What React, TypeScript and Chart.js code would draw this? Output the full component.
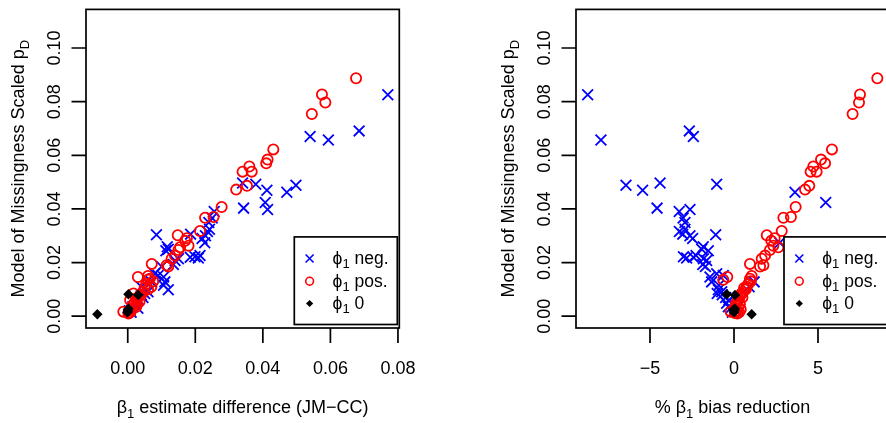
import React, { useEffect, useRef } from 'react';
import { Chart, registerables } from 'chart.js';

Chart.register(...registerables);

// ---- data ----
// phi1 negative
const negPD = [0.0826, 0.0691, 0.0670, 0.0657, 0.0497, 0.0492, 0.0488, 0.0470, 0.0462, 0.0424, 0.0403, 0.0398, 0.0390, 0.0366, 0.0349, 0.0324, 0.0316, 0.0306, 0.0300, 0.0304, 0.0290, 0.0274, 0.0259, 0.0250, 0.0244, 0.0226, 0.0222, 0.0217, 0.0220, 0.0214, 0.0208, 0.0193, 0.0185, 0.0158, 0.0152, 0.0146, 0.0128, 0.0128, 0.0115, 0.0099, 0.0091, 0.0085, 0.0080, 0.0070, 0.0060, 0.0048, 0.0035, 0.0030, 0.0015, 0.0020, 0.0110];
const negDiff = [0.0770, 0.0685, 0.0540, 0.0594, 0.0340, 0.0379, 0.0498, 0.0412, 0.0471, 0.0407, 0.0343, 0.0414, 0.0256, 0.0250, 0.0240, 0.0242, 0.0236, 0.0186, 0.0230, 0.0085, 0.0220, 0.0228, 0.0117, 0.0120, 0.0113, 0.0214, 0.0199, 0.0209, 0.0185, 0.0150, 0.0140, 0.0135, 0.0100, 0.0080, 0.0090, 0.0106, 0.0110, 0.0070, 0.0106, 0.0120, 0.0060, 0.0050, 0.0040, 0.0045, 0.0030, 0.0025, 0.0015, 0.0030, 0.0010, 0.0005, 0.0040];
const negRed = [-8.71, -2.66, -2.42, -7.92, -4.40, -1.03, -6.43, -5.44, 3.63, 5.46, -4.58, -2.62, -3.26, -3.03, -2.92, -2.92, -3.25, -3.05, -2.62, -1.09, -2.46, 2.72, -1.83, -1.92, -1.53, -2.26, -3.01, -2.82, -2.42, -1.82, -1.63, -1.86, -1.70, -1.03, -0.64, -1.43, -1.33, 1.20, -0.90, -0.93, -0.73, -1.00, -0.70, -0.50, -0.30, -0.44, -0.34, -0.20, -0.10, 0.10, 0.90];

// phi1 positive
const posPD = [0.0887, 0.0827, 0.0797, 0.0754, 0.0622, 0.0584, 0.0570, 0.0558, 0.0539, 0.0539, 0.0486, 0.0472, 0.0407, 0.0370, 0.0367, 0.0318, 0.0302, 0.0291, 0.0281, 0.0263, 0.0257, 0.0247, 0.0226, 0.0214, 0.0195, 0.0185, 0.0190, 0.0146, 0.0136, 0.0150, 0.0140, 0.0130, 0.0120, 0.0110, 0.0105, 0.0100, 0.0090, 0.0085, 0.0080, 0.0075, 0.0070, 0.0065, 0.0060, 0.0055, 0.0050, 0.0045, 0.0040, 0.0035, 0.0030, 0.0025, 0.0020, 0.0017, 0.0015, 0.0012, 0.0010];
const posDiff = [0.0676, 0.0575, 0.0585, 0.0545, 0.0431, 0.0414, 0.0410, 0.0360, 0.0367, 0.0340, 0.0353, 0.0321, 0.0278, 0.0254, 0.0229, 0.0214, 0.0148, 0.0175, 0.0170, 0.0180, 0.0155, 0.0150, 0.0140, 0.0130, 0.0071, 0.0120, 0.0115, 0.0030, 0.0060, 0.0060, 0.0065, 0.0075, 0.0055, 0.0070, 0.0050, 0.0060, 0.0045, 0.0017, 0.0040, 0.0035, 0.0030, 0.0025, 0.0007, 0.0035, 0.0020, 0.0028, 0.0015, 0.0025, 0.0010, 0.0012, 0.0005, -0.0013, 0.0008, 0.0003, 0.0002];
const posRed = [8.53, 7.50, 7.44, 7.06, 5.83, 5.18, 5.42, 4.72, 4.92, 4.56, 4.48, 4.23, 3.67, 3.39, 2.94, 2.84, 1.95, 2.42, 2.22, 2.34, 2.64, 2.14, 1.85, 1.65, 0.95, 1.55, 1.75, -0.40, -0.64, 1.05, 0.95, 1.00, 0.85, 0.75, 0.60, 0.70, 0.55, 0.45, 0.40, 0.35, 0.50, 0.30, 0.25, 0.20, 0.15, 0.35, 0.10, 0.25, 0.05, 0.40, 0.15, -0.20, 0.30, 0.05, 0.20];

// phi1 zero
const zeroPD = [0.0007, 0.0082, 0.0079, 0.0023, 0.0018, 0.0015, 0.0028];
const zeroDiff = [-0.0090, 0.0002, 0.0031, 0.0000, 0.0001, -0.0001, 0.0002];
const zeroRed = [1.05, -0.43, 0.06, -0.04, 0.02, 0.00, 0.05];

// axes
const yTicks = [0, 0.02, 0.04, 0.06, 0.08, 0.10];
const yTickLabels = ['0.00', '0.02', '0.04', '0.06', '0.08', '0.10'];
const leftXTicks = [0, 0.02, 0.04, 0.06, 0.08];
const leftXTickLabels = ['0.00', '0.02', '0.04', '0.06', '0.08'];
const rightXTicks = [-5, 0, 5];
const rightXTickLabels = ['\u22125', '0', '5'];
const yLimits = [-0.0044, 0.1144];
const leftXLimits = [-0.01236, 0.0804];
const rightXLimits = [-9.405, 9.226];

type Seg = { t: string; sub?: boolean };
const yTitle: Seg[] = [{ t: 'Model of Missingness Scaled p' }, { t: 'D', sub: true }];
const leftXTitle: Seg[] = [{ t: '\u03B2' }, { t: '1', sub: true }, { t: ' estimate difference (JM\u2212CC)' }];
const rightXTitle: Seg[] = [{ t: '% \u03B2' }, { t: '1', sub: true }, { t: ' bias reduction' }];
const legendLabels: Seg[][] = [
  [{ t: '\u03D5' }, { t: '1', sub: true }, { t: ' neg.' }],
  [{ t: '\u03D5' }, { t: '1', sub: true }, { t: ' pos.' }],
  [{ t: '\u03D5' }, { t: '1', sub: true }, { t: ' 0' }],
];

const FONT = '"Liberation Sans", Arial, Helvetica, sans-serif';
const BLUE = '#0000ff';
const RED = '#ff0000';

function segsWidth(ctx: CanvasRenderingContext2D, segs: Seg[], size: number) {
  let w = 0;
  for (const s of segs) {
    ctx.font = `${s.sub ? Math.round(size * 0.72) : size}px ${FONT}`;
    w += ctx.measureText(s.t).width;
  }
  return w;
}
function drawSegs(ctx: CanvasRenderingContext2D, segs: Seg[], x: number, y: number, size: number) {
  let cx = x;
  ctx.textAlign = 'left';
  ctx.textBaseline = 'alphabetic';
  for (const s of segs) {
    ctx.font = `${s.sub ? Math.round(size * 0.72) : size}px ${FONT}`;
    ctx.fillText(s.t, cx, y + (s.sub ? size * 0.25 : 0));
    cx += ctx.measureText(s.t).width;
  }
}

const rPlugin = {
  id: 'rstyle',
  afterDatasetsDraw(chart: any, _args: any, opts: any) {
    const { ctx, chartArea: a, scales } = chart;
    const xs = scales.x;
    const ys = scales.y;
    ctx.save();
    ctx.strokeStyle = '#000';
    ctx.fillStyle = '#000';
    ctx.lineWidth = 1.7;
    // box
    ctx.strokeRect(a.left, a.top, a.right - a.left, a.bottom - a.top);
    // ticks
    ctx.beginPath();
    opts.xTicks.forEach((v: number) => {
      const px = xs.getPixelForValue(v);
      ctx.moveTo(px, a.bottom);
      ctx.lineTo(px, a.bottom + 15);
    });
    yTicks.forEach((v) => {
      const py = ys.getPixelForValue(v);
      ctx.moveTo(a.left, py);
      ctx.lineTo(a.left - 14.5, py);
    });
    ctx.stroke();
    ctx.font = `18px ${FONT}`;
    ctx.textAlign = 'center';
    ctx.textBaseline = 'alphabetic';
    opts.xTicks.forEach((v: number, i: number) => {
      ctx.fillText(opts.xTickLabels[i], xs.getPixelForValue(v), a.bottom + 46);
    });
    yTicks.forEach((v, i) => {
      const py = ys.getPixelForValue(v);
      ctx.save();
      ctx.translate(a.left - 26, py);
      ctx.rotate(-Math.PI / 2);
      ctx.font = `18px ${FONT}`;
      ctx.textAlign = 'center';
      ctx.fillText(yTickLabels[i], 0, 0);
      ctx.restore();
    });
    // titles
    const cx = (a.left + a.right) / 2;
    const cy = (a.top + a.bottom) / 2;
    const wx = segsWidth(ctx, opts.xTitle, 18);
    drawSegs(ctx, opts.xTitle, cx - wx / 2, a.bottom + 85, 18);
    ctx.save();
    ctx.translate(a.left - 62, cy);
    ctx.rotate(-Math.PI / 2);
    const wy = segsWidth(ctx, yTitle, 18);
    drawSegs(ctx, yTitle, -wy / 2, 0, 18);
    ctx.restore();
    // legend
    const lw = 103;
    const lh = 87.6;
    const lx = a.right - 2 - lw;
    const ly = a.bottom - 3.5 - lh;
    ctx.fillStyle = '#fff';
    ctx.fillRect(lx, ly, lw, lh);
    ctx.strokeStyle = '#000';
    ctx.lineWidth = 1.7;
    ctx.strokeRect(lx, ly, lw, lh);
    const rows = [ly + 21.6, ly + 44.3, ly + 66.6];
    const sx = lx + 15.3;
    // cross
    ctx.strokeStyle = BLUE;
    ctx.lineWidth = 1.6;
    ctx.beginPath();
    ctx.moveTo(sx - 4, rows[0] - 4);
    ctx.lineTo(sx + 4, rows[0] + 4);
    ctx.moveTo(sx - 4, rows[0] + 4);
    ctx.lineTo(sx + 4, rows[0] - 4);
    ctx.stroke();
    // circle
    ctx.strokeStyle = RED;
    ctx.beginPath();
    ctx.arc(sx, rows[1], 3.9, 0, Math.PI * 2);
    ctx.stroke();
    // diamond
    ctx.fillStyle = '#000';
    ctx.beginPath();
    ctx.moveTo(sx - 3.6, rows[2]);
    ctx.lineTo(sx, rows[2] - 3.6);
    ctx.lineTo(sx + 3.6, rows[2]);
    ctx.lineTo(sx, rows[2] + 3.6);
    ctx.closePath();
    ctx.fill();
    ctx.fillStyle = '#000';
    legendLabels.forEach((segs, i) => drawSegs(ctx, segs, lx + 38.3, rows[i] + 5.5, 17.5));
    ctx.restore();
  },
};

function makeConfig(xs: { neg: number[]; pos: number[]; zero: number[] }, xLim: number[], pad: any, plugOpts: any): any {
  const pts = (xv: number[], yv: number[]) => xv.map((x, i) => ({ x, y: yv[i] }));
  return {
    type: 'scatter',
    data: {
      datasets: [
        {
          label: 'neg',
          data: pts(xs.neg, negPD),
          pointStyle: 'crossRot',
          pointRadius: 7.6,
          borderColor: BLUE,
          backgroundColor: BLUE,
          borderWidth: 1.8,
          order: 3,
        },
        {
          label: 'pos',
          data: pts(xs.pos, posPD),
          pointStyle: 'circle',
          pointRadius: 5.1,
          borderColor: RED,
          backgroundColor: 'rgba(0,0,0,0)',
          borderWidth: 1.8,
          order: 2,
        },
        {
          label: 'zero',
          data: pts(xs.zero, zeroPD),
          pointStyle: 'rectRot',
          pointRadius: 5.2,
          borderColor: '#000',
          backgroundColor: '#000',
          borderWidth: 0,
          order: 1,
        },
      ],
    },
    options: {
      responsive: false,
      animation: false,
      devicePixelRatio: 1,
      layout: { padding: pad },
      plugins: { legend: { display: false }, tooltip: { enabled: false }, rstyle: plugOpts },
      scales: {
        x: { type: 'linear', min: xLim[0], max: xLim[1], display: false },
        y: { type: 'linear', min: yLimits[0], max: yLimits[1], display: false },
      },
    },
    plugins: [rPlugin],
  };
}

export default function App() {
  const leftRef = useRef<HTMLCanvasElement>(null);
  const rightRef = useRef<HTMLCanvasElement>(null);
  useEffect(() => {
    const c1 = new Chart(
      leftRef.current!,
      makeConfig(
        { neg: negDiff, pos: posDiff, zero: zeroDiff },
        leftXLimits,
        { left: 86, right: 43.7, top: 6.5, bottom: 95 },
        { xTicks: leftXTicks, xTickLabels: leftXTickLabels, xTitle: leftXTitle }
      )
    );
    const c2 = new Chart(
      rightRef.current!,
      makeConfig(
        { neg: negRed, pos: posRed, zero: zeroRed },
        rightXLimits,
        { left: 133, right: 44, top: 6.5, bottom: 95 },
        { xTicks: rightXTicks, xTickLabels: rightXTickLabels, xTitle: rightXTitle }
      )
    );
    return () => {
      c1.destroy();
      c2.destroy();
    };
  }, []);
  return (
    <div style={{ position: 'fixed', left: 0, top: 0, width: 886, height: 423, overflow: 'hidden', background: '#fff' }}>
      <canvas ref={leftRef} width={443} height={423} style={{ position: 'absolute', left: 0, top: 0, width: 443, height: 423 }} />
      <canvas ref={rightRef} width={490} height={423} style={{ position: 'absolute', left: 443, top: 0, width: 490, height: 423 }} />
    </div>
  );
}
